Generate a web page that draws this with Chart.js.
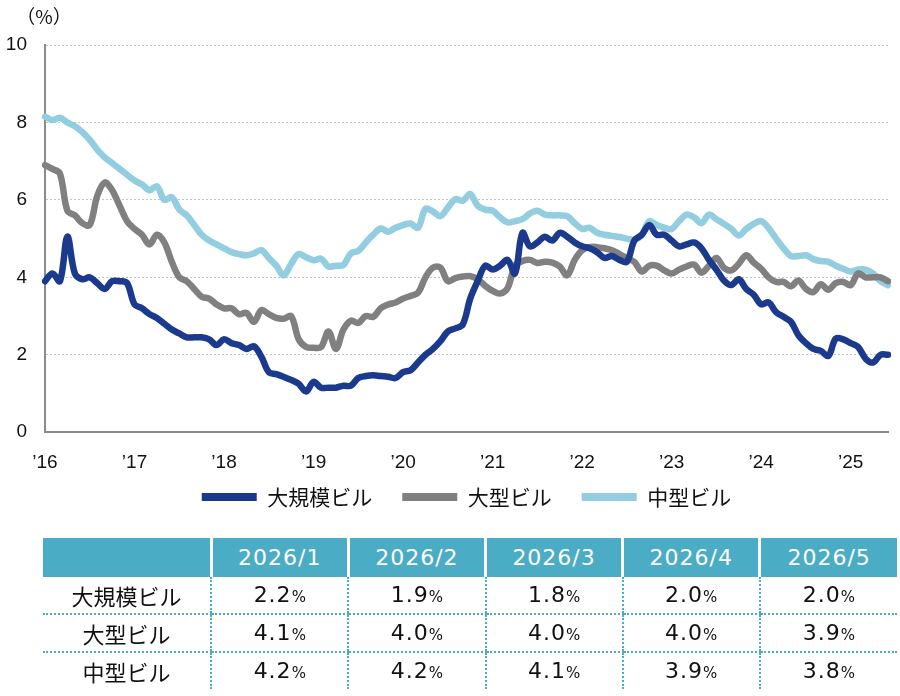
<!DOCTYPE html>
<html><head><meta charset="utf-8">
<script src="https://cdn.jsdelivr.net/npm/chart.js@4.4.1/dist/chart.umd.min.js"></script>
<style>
html,body{margin:0;padding:0;background:#fff;}
#wrap{position:relative;width:900px;height:696px;overflow:hidden;}
#c{position:absolute;left:0;top:0;}
#tbl{position:absolute;left:43px;top:538px;width:854px;border-collapse:collapse;table-layout:fixed;font-family:"DejaVu Sans","Noto Sans CJK JP",sans-serif;color:#111;}
#tbl th{background:#4BACC6;color:#fff;font-weight:normal;font-size:22px;height:39px;padding:0;border-left:3px solid #fff;letter-spacing:1px;line-height:39px;}
#tbl th:first-child{border-left:none;}
#tbl td{height:36px;padding:0;text-align:center;font-size:22px;letter-spacing:1px;line-height:30px;overflow:hidden;}
#tbl td.lab{font-family:"Noto Sans CJK JP",sans-serif;letter-spacing:0;}
#tbl td+td{border-left:2px dotted #4BACC6;}
#tbl tr.sep td{border-bottom:2px dotted #4BACC6;}
#tbl .pct{font-size:15px;letter-spacing:0;line-height:1;}
</style></head>
<body>
<div id="wrap">
<canvas id="c" width="900" height="554"></canvas>
<table id="tbl"></table>
</div>
<script>
// ---- data ----
const seriesNames = ['大規模ビル', '大型ビル', '中型ビル'];
const tickLabels = ['’16', '’17', '’18', '’19', '’20', '’21', '’22', '’23', '’24', '’25'];
const large = [3.9,4.1,3.9,5.05,4.1,3.95,4.0,3.85,3.7,3.9,3.9,3.85,3.3,3.2,3.05,2.95,2.8,2.65,2.55,2.45,
2.45,2.45,2.4,2.25,2.4,2.3,2.25,2.15,2.22,1.95,1.55,1.5,1.43,1.35,1.25,1.05,1.3,1.15,1.15,1.15,
1.2,1.2,1.4,1.45,1.47,1.45,1.43,1.4,1.55,1.6,1.8,2.0,2.15,2.35,2.6,2.68,2.78,3.45,3.9,4.3,
4.2,4.3,4.45,4.1,5.15,4.8,4.9,5.05,4.95,5.15,5.05,4.9,4.8,4.75,4.65,4.5,4.55,4.45,4.4,4.95,
5.1,5.35,5.1,5.1,4.95,4.8,4.85,4.9,4.75,4.45,4.2,3.92,3.8,3.95,3.7,3.55,3.3,3.35,3.1,2.98,
2.85,2.5,2.3,2.15,2.1,1.97,2.42,2.4,2.3,2.2,1.9,1.8,2.0,2.0];
const big = [6.9,6.8,6.68,5.72,5.6,5.4,5.35,6.1,6.45,6.25,5.85,5.45,5.25,5.1,4.85,5.1,4.9,4.4,4.0,3.9,
3.7,3.5,3.45,3.3,3.2,3.2,3.05,3.08,2.85,3.15,3.05,2.95,2.93,3.0,2.4,2.2,2.18,2.2,2.6,2.15,
2.65,2.88,2.82,3.0,2.98,3.2,3.3,3.35,3.45,3.52,3.6,4.0,4.25,4.25,3.9,3.98,4.02,4.03,3.95,3.78,
3.65,3.58,3.72,4.3,4.42,4.45,4.37,4.4,4.38,4.28,4.05,4.45,4.7,4.78,4.78,4.75,4.7,4.6,4.5,4.4,
4.15,4.3,4.3,4.18,4.1,4.2,4.28,4.33,4.12,4.3,4.5,4.25,4.18,4.35,4.57,4.38,4.22,4.0,3.88,3.88,
3.77,3.92,3.7,3.62,3.82,3.68,3.85,3.88,3.8,4.1,4.0,4.0,4.0,3.9];
const mid = [8.15,8.06,8.12,8.0,7.9,7.75,7.55,7.3,7.1,6.95,6.8,6.65,6.5,6.4,6.25,6.35,6.0,6.07,5.75,5.6,
5.35,5.1,4.95,4.85,4.75,4.65,4.6,4.57,4.62,4.7,4.5,4.3,4.05,4.35,4.6,4.52,4.44,4.48,4.28,4.3,
4.32,4.62,4.68,4.9,5.1,5.26,5.18,5.28,5.35,5.39,5.28,5.77,5.7,5.58,5.8,6.02,5.98,6.15,5.85,5.75,
5.72,5.55,5.42,5.45,5.5,5.65,5.72,5.62,5.6,5.6,5.58,5.4,5.25,5.28,5.15,5.1,5.07,5.04,5.0,4.97,
5.1,5.45,5.35,5.28,5.25,5.45,5.62,5.55,5.4,5.62,5.5,5.38,5.25,5.08,5.25,5.38,5.45,5.27,5.0,4.75,
4.55,4.55,4.57,4.47,4.42,4.4,4.3,4.22,4.15,4.2,4.2,4.1,3.9,3.8];
// month categories (2016/12 .. 2026/5)
const categories = [];
for (let i = 0; i < large.length; i++) {
  const m = 11 + i; categories.push((2016 + Math.floor(m / 12)) + '/' + (m % 12 + 1));
}
const colors = ['#1B3A8E', '#808080', '#92CEE0'];

// ---- chart ----
Chart.defaults.font.family = '"Liberation Sans", Arial, sans-serif';
Chart.defaults.color = '#111';
const pctLabel = {
  id: 'pctLabel',
  afterLayout(chart) {
    // pull the legend up closer to the axis labels
    const lg = chart.legend;
    if (lg) { lg.top -= 36.5; lg.bottom -= 36.5; }
  },
  afterDraw(chart) {
    const ctx = chart.ctx, a = chart.chartArea;
    ctx.save();
    ctx.font = '19px "Noto Sans CJK JP"';
    ctx.fillStyle = '#111';
    ctx.textAlign = 'center';
    ctx.textBaseline = 'middle';
    ctx.fillText('（%）', a.left - 1, a.top - 28);
    ctx.restore();
  }
};
const datasets = [large, big, mid].map((d, k) => ({
  label: seriesNames[k], data: d, borderColor: colors[k], backgroundColor: colors[k],
  borderWidth: 6.5, pointRadius: 0, tension: 0.35, fill: false,
  borderJoinStyle: 'round', borderCapStyle: 'round'
}));
new Chart(document.getElementById('c'), {
  type: 'line',
  data: { labels: categories, datasets },
  options: {
    responsive: false, animation: false, devicePixelRatio: 1,
    layout: { padding: { top: 45, right: 12, left: 0, bottom: 0 } },
    plugins: {
      tooltip: { enabled: false },
      legend: {
        position: 'bottom', fullSize: false,
        labels: {
          boxWidth: 55, boxHeight: 8, padding: 30, color: '#111',
          font: { size: 21, family: '"Noto Sans CJK JP"' },
          generateLabels(chart) {
            return Chart.defaults.plugins.legend.labels.generateLabels(chart).map(l => Object.assign(l, { lineWidth: 0, fillStyle: l.strokeStyle }));
          }
        }
      }
    },
    scales: {
      x: {
        type: 'category', offset: false,
        grid: { display: false, drawTicks: false },
        border: { display: true, color: '#8a8a8a', width: 2 },
        ticks: {
          autoSkip: false, maxRotation: 0, padding: 19, font: { size: 19 },
          callback: (v, i) => (i % 12 === 0 ? tickLabels[i / 12] : null)
        }
      },
      y: {
        min: 0, max: 10,
        afterFit(s) { s.width = 45; },
        grid: { color: '#c4c4c4', lineWidth: 1, drawTicks: false, borderDash: [2, 2] },
        border: { display: true, color: '#8a8a8a', width: 2, dash: [2, 2] },
        ticks: { stepSize: 2, padding: 18, font: { size: 19 } }
      }
    }
  },
  plugins: [pctLabel]
});

// ---- table (last five months) ----
const tMonths = categories.slice(-5);
const tRows = [large, big, mid].map(s => s.slice(-5));
let html = '<colgroup><col style="width:168px">' + tMonths.map(() => '<col style="width:137px">').join('') + '</colgroup>';
html += '<tr><th></th>' + tMonths.map(m => '<th>' + m + '</th>').join('') + '</tr>';
tRows.forEach((r, k) => {
  html += '<tr' + (k < 2 ? ' class="sep"' : '') + '><td class="lab">' + seriesNames[k] + '</td>' +
    r.map(v => '<td>' + v.toFixed(1) + '<span class="pct">%</span></td>').join('') + '</tr>';
});
document.getElementById('tbl').innerHTML = html;
</script>
</body></html>
